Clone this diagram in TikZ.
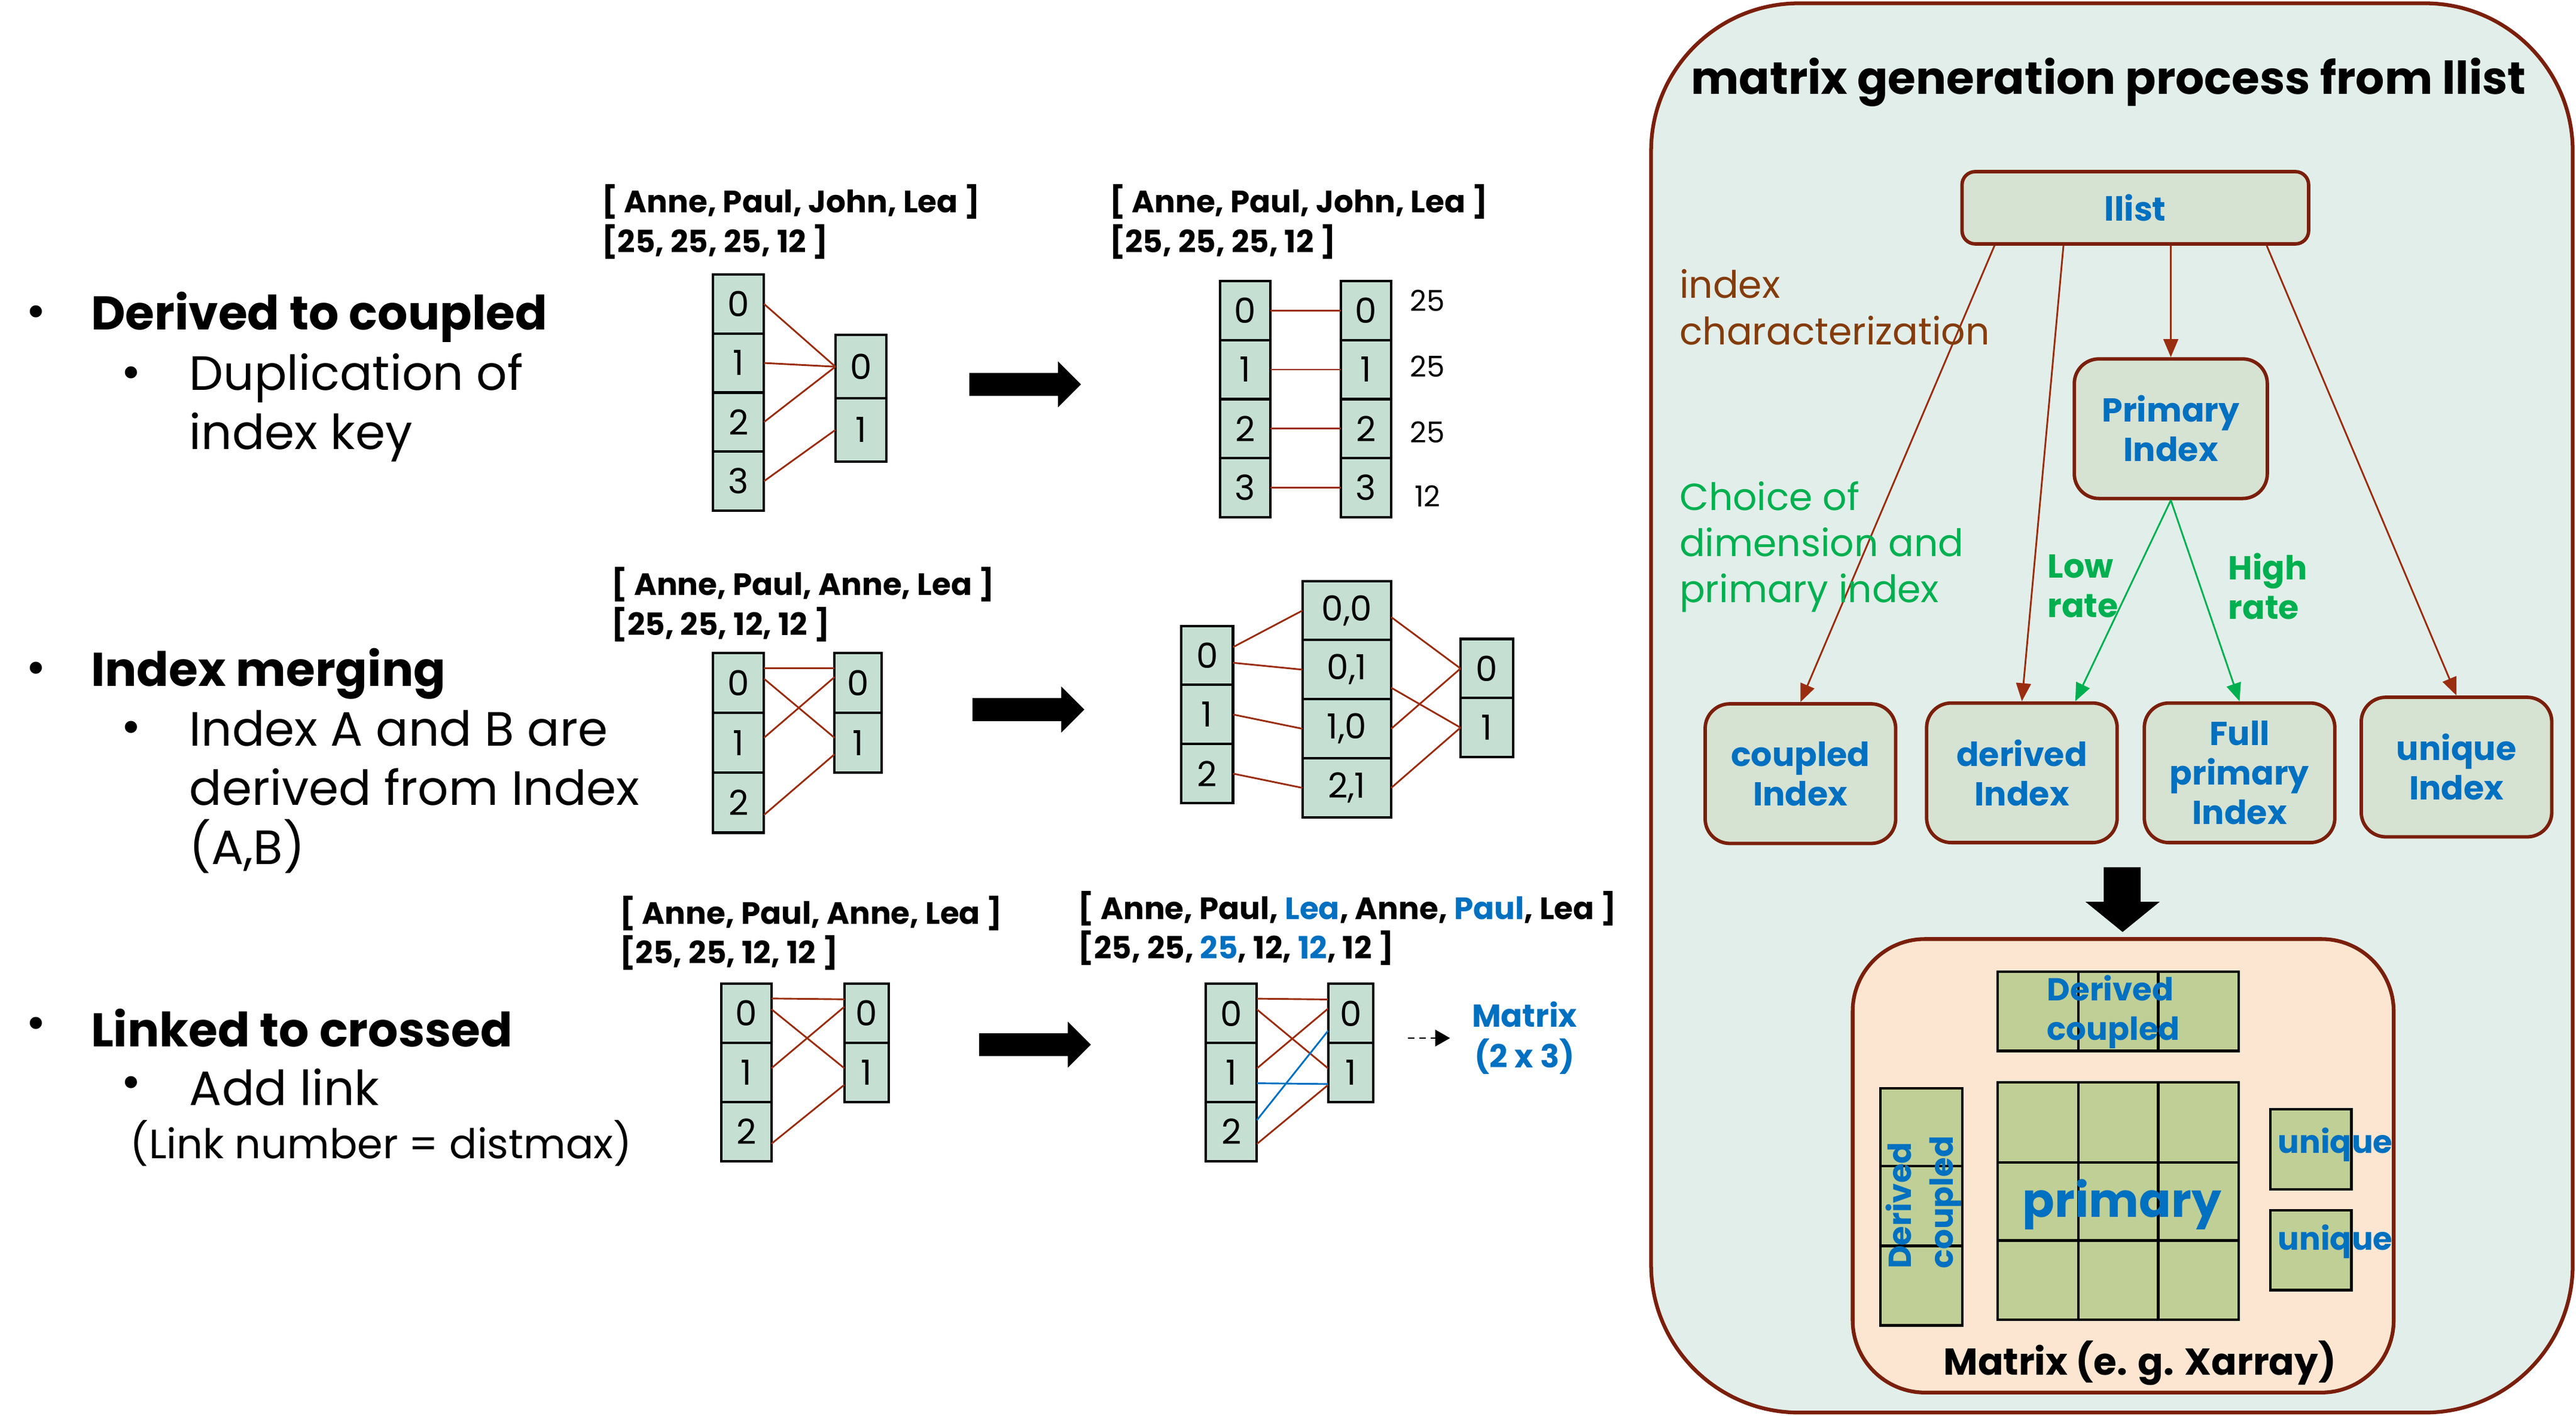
\documentclass[tikz,border=0pt]{standalone}
\usepackage{fontspec}
\setmainfont{Poppins}
\usepackage{xcolor}
\usepackage{tikz}
\usetikzlibrary{shapes.geometric, arrows.meta, positioning}
\definecolor{cellfill}{HTML}{C5DFD3}
\definecolor{linkred}{HTML}{9A2D10}
\definecolor{linkblue}{HTML}{0070C0}
\definecolor{darkred}{HTML}{7A1F0B}
\definecolor{panelfill}{HTML}{E2EEE9}
\definecolor{boxfill}{HTML}{D6E2D2}
\definecolor{idxblue}{HTML}{0070C0}
\definecolor{choicegreen}{HTML}{00B050}
\definecolor{notered}{HTML}{843C0C}
\definecolor{peach}{HTML}{FCE6D1}
\definecolor{olive}{HTML}{C0CF95}
\tikzstyle{dot} = [inner sep=0pt, font=\fontsize{17}{17}\selectfont]
\tikzstyle{bullethead} = [anchor=west, inner sep=0pt, font=\bfseries\fontsize{16.4}{20.5}\selectfont]
\tikzstyle{bulletsub} = [anchor=west, align=left, inner sep=0pt, font=\fontsize{16.7}{20.5}\selectfont]
\tikzstyle{listlabel} = [anchor=west, align=left, inner sep=0pt, font=\bfseries\fontsize{10.7}{13.7}\selectfont]
\tikzstyle{cell} = [rectangle, draw=black, line width=0.85pt, fill=cellfill, inner sep=0pt, outer sep=0pt, minimum width=0.62cm, minimum height=0.72cm, font=\fontsize{12}{12}\selectfont]
\tikzstyle{num} = [inner sep=0pt, font=\fontsize{10}{10}\selectfont]
\tikzstyle{linkline} = [draw=linkred, line width=0.6pt]
\tikzstyle{bluelink} = [draw=linkblue, line width=0.6pt]
\tikzstyle{panel} = [draw=darkred, line width=1.3pt, fill=panelfill, rounded corners=1.8cm]
\tikzstyle{title} = [inner sep=0pt, font=\bfseries\fontsize{15.7}{15.7}\selectfont]
\tikzstyle{indexbox} = [rectangle, rounded corners=0.3cm, draw=darkred, line width=1.2pt, fill=boxfill, minimum width=2.32cm, minimum height=1.7cm, align=center, text=idxblue, inner sep=1pt, font=\bfseries\fontsize{11.5}{13.7}\selectfont]
\tikzstyle{arrow} = [draw=linkred, line width=0.6pt, -{Triangle[length=0.22cm, width=0.18cm]}]
\tikzstyle{greenarrow} = [draw=choicegreen, line width=0.6pt, -{Triangle[length=0.22cm, width=0.18cm]}]
\tikzstyle{dasharrow} = [draw=black, line width=0.6pt, dash pattern=on 0.08cm off 0.06cm, -{Triangle[length=0.18cm, width=0.2cm]}]
\tikzstyle{note} = [anchor=west, align=left, inner sep=0pt, font=\fontsize{13.1}{16}\selectfont]
\tikzstyle{rate} = [anchor=west, align=left, inner sep=0pt, text=choicegreen, font=\bfseries\fontsize{11.5}{13.7}\selectfont]
\tikzstyle{matrixbox} = [draw=darkred, line width=1.3pt, fill=peach, rounded corners=0.88cm]
\tikzstyle{cellgrid} = [draw=black, line width=0.9pt, fill=olive]
\tikzstyle{gridtext} = [inner sep=0pt, text=idxblue, font=\bfseries\fontsize{11}{13.7}\selectfont]

\begin{document}
\begin{tikzpicture}[x=0.02cm, y=-0.02cm]
\useasboundingbox (0,0) rectangle (1568,862);

% bullets on the left
\node (d1) [dot] at (22,193) {•};
\node (h1) [bullethead] at (55,193) {Derived to coupled};
\node (d1a) [dot] at (80,230) {•};
\node (s1) [bulletsub] at (115,248) {Duplication of\\index key};

\node (d2) [dot] at (22,410) {•};
\node (h2) [bullethead] at (55,410) {Index merging};
\node (d2a) [dot] at (80,446) {•};
\node (s2) [bulletsub] at (115,482) {Index A and B are\\derived from Index\\(A,B)};

\node (d3) [dot] at (22,626) {•};
\node (h3) [bullethead] at (55,626) {Linked to crossed};
\node (d3a) [dot] at (80,662) {•};
\node (s3) [bulletsub] at (115,662) {Add link};
\node (s3b) [bulletsub, font=\fontsize{14.2}{14.2}\selectfont] at (79,696) {(Link number = distmax)};

% derived to coupled
\node (lab1) [listlabel] at (366,135) {[ Anne, Paul, John, Lea ]\\{}[25, 25, 25, 12 ]};
\node (kl0) [cell] at (449.5,185) {0};
\node (kl1) [cell, below=0pt of kl0] {1};
\node (kl2) [cell, below=0pt of kl1] {2};
\node (kl3) [cell, below=0pt of kl2] {3};
\node (kr0) [cell, minimum height=0.77cm] at (524,223.25) {0};
\node (kr1) [cell, minimum height=0.77cm, below=0pt of kr0] {1};

\draw [linkline] (kl0.east) -- (kr0.west);
\draw [linkline] (kl1.east) -- (kr0.west);
\draw [linkline] (kl2.east) -- (kr0.west);
\draw [linkline] (kl3.east) -- (kr1.west);

\node (lab1r) [listlabel] at (675,135) {[ Anne, Paul, John, Lea ]\\{}[25, 25, 25, 12 ]};
\node (dl0) [cell, minimum width=0.61cm] at (757.9,189) {0};
\node (dl1) [cell, minimum width=0.61cm, below=0pt of dl0] {1};
\node (dl2) [cell, minimum width=0.61cm, below=0pt of dl1] {2};
\node (dl3) [cell, minimum width=0.61cm, below=0pt of dl2] {3};
\node (dr0) [cell, minimum width=0.61cm] at (831.5,189) {0};
\node (dr1) [cell, minimum width=0.61cm, below=0pt of dr0] {1};
\node (dr2) [cell, minimum width=0.61cm, below=0pt of dr1] {2};
\node (dr3) [cell, minimum width=0.61cm, below=0pt of dr2] {3};
\draw [linkline] (dl0.east) -- (dr0.west);
\draw [linkline] (dl1.east) -- (dr1.west);
\draw [linkline] (dl2.east) -- (dr2.west);
\draw [linkline] (dl3.east) -- (dr3.west);
\node (n0) [num] at (869,183) {25};
\node (n1) [num] at (869,223) {25};
\node (n2) [num] at (869,263) {25};
\node (n3) [num] at (869,302) {12};

% big arrows
\foreach \ax/\ay in {590/234, 592/432, 596/636}
  \fill (\ax,\ay-7) -- ++(54,0) -- ++(0,-7) -- ++(14,14) -- ++(-14,14) -- ++(0,-7) -- ++(-54,0) -- cycle;

% index merging
\node (lab2) [listlabel] at (372,368) {[ Anne, Paul, Anne, Lea ]\\{}[25, 25, 12, 12 ]};
\node (ma0) [cell, minimum height=0.73cm] at (449.5,415.7) {0};
\node (ma1) [cell, minimum height=0.73cm, below=0pt of ma0] {1};
\node (ma2) [cell, minimum height=0.73cm, below=0pt of ma1] {2};
\node (mb0) [cell, minimum height=0.73cm, minimum width=0.57cm] at (522.25,415.7) {0};
\node (mb1) [cell, minimum height=0.73cm, minimum width=0.57cm, below=0pt of mb0] {1};
\draw [linkline] ([yshift=0.18cm]ma0.east) -- ([yshift=0.18cm]mb0.west);
\draw [linkline] ([yshift=0.05cm]ma0.east) -- ([yshift=0.06cm]mb1.west);
\draw [linkline] ([yshift=0.06cm]ma1.east) -- ([yshift=0.07cm]mb0.west);
\draw [linkline] ([yshift=-0.15cm]ma2.east) -- ([yshift=-0.14cm]mb1.west);

\node (ga0) [cell, minimum width=0.63cm] at (734.75,399) {0};
\node (ga1) [cell, minimum width=0.63cm, below=0pt of ga0] {1};
\node (ga2) [cell, minimum width=0.63cm, below=0pt of ga1] {2};
\node (gm0) [cell, minimum width=1.08cm] at (819.8,371.7) {0,0};
\node (gm1) [cell, minimum width=1.08cm, below=0pt of gm0] {0,1};
\node (gm2) [cell, minimum width=1.08cm, below=0pt of gm1] {1,0};
\node (gm3) [cell, minimum width=1.08cm, below=0pt of gm2] {2,1};
\node (gb0) [cell, minimum width=0.64cm] at (905,407) {0};
\node (gb1) [cell, minimum width=0.64cm, below=0pt of gb0] {1};
\draw [linkline] ([yshift=0.1cm]ga0.east) -- (gm0.west);
\draw [linkline] ([yshift=-0.09cm]ga0.east) -- (gm1.west);
\draw [linkline] (ga1.east) -- (gm2.west);
\draw [linkline] (ga2.east) -- (gm3.west);
\draw [linkline] ([yshift=-0.08cm]gm0.east) -- (gb0.west);
\draw [linkline] ([yshift=-0.22cm]gm1.east) -- (gb1.west);
\draw [linkline] (gm2.east) -- (gb0.west);
\draw [linkline] (gm3.east) -- (gb1.west);

% linked to crossed
\node (lab3) [listlabel] at (377,568) {[ Anne, Paul, Anne, Lea ]\\{}[25, 25, 12, 12 ]};
\node (xa0) [cell, minimum width=0.61cm] at (454.25,616.9) {0};
\node (xa1) [cell, minimum width=0.61cm, below=0pt of xa0] {1};
\node (xa2) [cell, minimum width=0.61cm, below=0pt of xa1] {2};
\node (xb0) [cell, minimum width=0.54cm] at (527.5,616.9) {0};
\node (xb1) [cell, minimum width=0.54cm, below=0pt of xb0] {1};
\draw [linkline] ([yshift=0.18cm]xa0.east) -- ([yshift=0.17cm]xb0.west);
\draw [linkline] ([yshift=0.05cm]xa0.east) -- ([yshift=0.05cm]xb1.west);
\draw [linkline] ([yshift=0.05cm]xa1.east) -- ([yshift=0.08cm]xb0.west);
\draw [linkline] ([yshift=-0.15cm]xa2.east) -- ([yshift=-0.15cm]xb1.west);

\node (lab3r) [listlabel] at (656,565) {[ Anne, Paul, \textcolor{idxblue}{Lea}, Anne, \textcolor{idxblue}{Paul}, Lea ]\\{}[25, 25, \textcolor{idxblue}{25}, 12, \textcolor{idxblue}{12}, 12 ]};
\node (ya0) [cell] at (749.5,617) {0};
\node (ya1) [cell, below=0pt of ya0] {1};
\node (ya2) [cell, below=0pt of ya1] {2};
\node (yb0) [cell, minimum width=0.55cm] at (822.2,617) {0};
\node (yb1) [cell, minimum width=0.55cm, below=0pt of yb0] {1};
\draw [linkline] ([yshift=0.18cm]ya0.east) -- ([yshift=0.17cm]yb0.west);
\draw [linkline] ([yshift=0.05cm]ya0.east) -- ([yshift=0.05cm]yb1.west);
\draw [linkline] ([yshift=0.05cm]ya1.east) -- ([yshift=0.06cm]yb0.west);
\draw [linkline] ([yshift=-0.15cm]ya2.east) -- ([yshift=-0.15cm]yb1.west);
\draw [bluelink] ([yshift=-0.13cm]ya1.east) -- ([yshift=-0.14cm]yb1.west);
\draw [bluelink] ([yshift=0.14cm]ya2.east) -- ([yshift=-0.21cm]yb0.west);

\coordinate (dstart) at (857,632);
\node (mat23) [inner sep=0pt, align=center, text=idxblue, font=\bfseries\fontsize{11}{14}\selectfont] at (928,632) {Matrix\\(2 x 3)};
\draw [dasharrow, shorten >=0.26cm] (dstart) -- (mat23.west);

% matrix generation panel
\draw [panel] (1005,2) rectangle (1566,860);
\node (title) [title] at (1283.5,50) {matrix generation process from llist};

\node (llist) [indexbox, minimum width=4.22cm, minimum height=0.88cm, rounded corners=0.16cm] at (1299.75,126.5) {llist};
\node (primary) [indexbox, minimum width=2.35cm] at (1321.35,261) {Primary\\Index};
\node (coupled) [indexbox] at (1095.9,471) {coupled\\Index};
\node (derived) [indexbox] at (1230.7,470.5) {derived\\Index};
\node (full) [indexbox] at (1363.2,470.5) {Full\\primary\\Index};
\node (unique) [indexbox] at (1495.25,467) {unique\\Index};

\draw [arrow] ([xshift=-1.715cm]llist.south) -- (coupled.north);
\draw [arrow] ([xshift=-0.875cm]llist.south) -- (derived.north);
\draw [arrow] (llist.south -| primary.north) -- (primary.north);
\draw [arrow] ([xshift=1.6cm]llist.south) -- (unique.north);
\draw [greenarrow] (primary.south) -- ([xshift=0.65cm]derived.north);
\draw [greenarrow] (primary.south) -- (full.north);

\node (charac) [note, text=notered] at (1022,187) {index\\characterization};
\node (choice) [note, text=choicegreen] at (1022,333) {Choice of\\dimension and\\primary index};
\node (low) [rate] at (1246,357) {Low\\rate};
\node (high) [rate] at (1356,357) {High\\rate};

\fill (1280.5,528) -- (1303,528) -- (1303,549) -- (1314.6,549) -- (1292,567.4) -- (1269.4,549) -- (1280.5,549) -- cycle;

% matrix sketch
\draw [matrixbox] (1127.7,571.7) rectangle (1457,847.8);
\draw [cellgrid] (1216,591.5) rectangle (1362.6,639.8);
\draw [line width=0.9pt] (1265,591.5) -- (1265,639.8) (1313.7,591.5) -- (1313.7,639.8);
\draw [cellgrid] (1144.6,662.5) rectangle (1194.5,806.9);
\draw [line width=0.9pt] (1144.6,710) -- (1194.5,710) (1144.6,758.5) -- (1194.5,758.5);
\draw [cellgrid] (1216,659) rectangle (1362.6,803.4);
\draw [line width=0.9pt] (1265,659) -- (1265,803.4) (1313.7,659) -- (1313.7,803.4)
  (1216,707.8) -- (1362.6,707.8) (1216,755.2) -- (1362.6,755.2);
\draw [cellgrid] (1382,675.3) rectangle (1431.3,724);
\draw [cellgrid] (1382,736.8) rectangle (1431.3,785.4);

\node (dctop) [gridtext, align=left] at (1286.5,616) {Derived\\coupled};
\node (dcside) [gridtext, align=left, rotate=90, font=\bfseries\fontsize{11}{14.5}\selectfont] at (1171,732) {Derived\\coupled};
\node (prim) [gridtext, font=\bfseries\fontsize{16.4}{16.4}\selectfont] at (1291.7,733.5) {primary};
\node (uq1) [gridtext] at (1421.5,697) {unique};
\node (uq2) [gridtext] at (1421.5,756) {unique};
\node (xarr) [inner sep=0pt, font=\bfseries\fontsize{13}{13}\selectfont] at (1302.5,830) {Matrix (e. g. Xarray)};

\end{tikzpicture}
\end{document}
